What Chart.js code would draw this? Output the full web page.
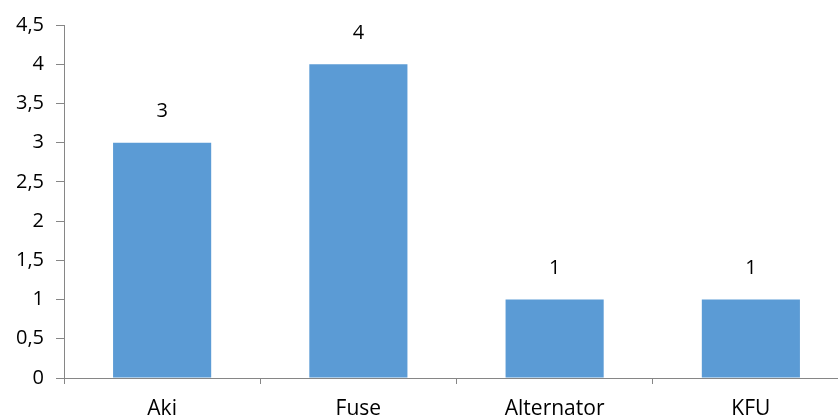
<!DOCTYPE html>
<html>
<head>
<meta charset="utf-8">
<script src="https://cdn.jsdelivr.net/npm/chart.js@4/dist/chart.umd.min.js"></script>
<style>
  html, body { margin: 0; padding: 0; overflow: hidden; background: #fff; }
  #wrap { width: 850px; height: 419px; }
</style>
</head>
<body>
<div id="wrap"><canvas id="chart" width="850" height="419"></canvas></div>
<script>
// data
const categories = ["Aki", "Fuse", "Alternator", "KFU"];
const counts = [3, 4, 1, 1];
const yTicks = [0, 0.5, 1, 1.5, 2, 2.5, 3, 3.5, 4, 4.5];

const axisColor = "#868686";
const fontFamily = "'Open Sans', 'Noto Sans', sans-serif";

// labels above the bars
const valueLabels = {
  id: "valueLabels",
  afterDatasetsDraw(chart) {
    const ctx = chart.ctx;
    const meta = chart.getDatasetMeta(0);
    ctx.save();
    ctx.font = "20px " + fontFamily;
    ctx.fillStyle = "#000";
    ctx.textAlign = "center";
    ctx.textBaseline = "middle";
    meta.data.forEach(function (bar, i) {
      ctx.fillText(String(counts[i]), bar.x, bar.y - 31);
    });
    ctx.restore();
  }
};

new Chart(document.getElementById("chart").getContext("2d"), {
  type: "bar",
  data: {
    labels: categories,
    datasets: [{
      data: counts,
      backgroundColor: "#5B9BD5",
      borderWidth: 0,
      categoryPercentage: 1,
      barPercentage: 0.5
    }]
  },
  options: {
    responsive: false,
    animation: false,
    layout: { padding: { top: 25, right: 1, left: 0, bottom: 0 } },
    plugins: { legend: { display: false }, tooltip: { enabled: false } },
    scales: {
      x: {
        grid: {
          display: true,
          drawOnChartArea: false,
          drawTicks: true,
          tickLength: 6,
          color: axisColor,
          offset: true
        },
        border: { color: axisColor, width: 1 },
        ticks: {
          color: "#000",
          padding: 12,
          font: { size: 21, family: fontFamily }
        },
        afterFit(scale) { scale.height = 41; }
      },
      y: {
        min: 0,
        max: 4.5,
        afterBuildTicks(scale) {
          scale.ticks = yTicks.map(v => ({ value: v }));
        },
        grid: {
          display: true,
          drawOnChartArea: false,
          drawTicks: true,
          tickLength: 8,
          color: axisColor
        },
        border: { color: axisColor, width: 1 },
        ticks: {
          color: "#000",
          padding: 12,
          font: { size: 20, family: fontFamily },
          callback: v => String(v).replace(".", ",")
        },
        afterFit(scale) { scale.width = 64; }
      }
    }
  },
  plugins: [valueLabels]
});
</script>
</body>
</html>
